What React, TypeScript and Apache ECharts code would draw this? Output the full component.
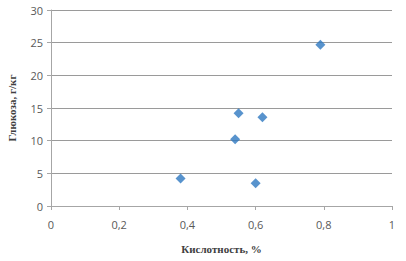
import React, { useEffect, useRef } from "react";
import * as echarts from "echarts";

const acidity = [0.38, 0.54, 0.55, 0.6, 0.62, 0.79];
const glucose = [4.2, 10.2, 14.2, 3.5, 13.6, 24.7];
const xTicks = [0, 0.2, 0.4, 0.6, 0.8, 1];
const yTicks = [0, 5, 10, 15, 20, 25, 30];
const xName = "Кислотность, %";
const yName = "Глюкоза, г/кг";

export default function App() {
  const ref = useRef<HTMLDivElement>(null);
  useEffect(() => {
    if (!ref.current) return;
    const chart = echarts.init(ref.current, null, { renderer: "svg" });
    const labelStyle = { color: "#595959", fontFamily: "Open Sans", fontSize: 11 };
    chart.setOption({
      animation: false,
      backgroundColor: "#ffffff",
      grid: { left: 51, right: 14, top: 10, bottom: 55, containLabel: false, outerBoundsMode: "none" },
      xAxis: {
        type: "value",
        min: xTicks[0],
        max: xTicks[xTicks.length - 1],
        interval: 0.2,
        name: xName,
        nameLocation: "middle",
        nameGap: 37,
        nameTextStyle: { fontFamily: "Liberation Serif", fontWeight: "bold", fontSize: 11, color: "#404040" },
        axisLine: { show: true, lineStyle: { color: "#a6a6a6" } },
        axisTick: { show: true, length: 4, lineStyle: { color: "#a6a6a6" } },
        splitLine: { show: false },
        axisLabel: { ...labelStyle, margin: 13, formatter: (v: number) => String(v).replace(".", ",") },
      },
      yAxis: {
        type: "value",
        min: yTicks[0],
        max: yTicks[yTicks.length - 1],
        interval: 5,
        name: yName,
        nameLocation: "middle",
        nameGap: 34,
        nameRotate: 90,
        nameTextStyle: { fontFamily: "Liberation Serif", fontWeight: "bold", fontSize: 11, color: "#404040" },
        axisLine: { show: true, lineStyle: { color: "#a6a6a6" } },
        axisTick: { show: true, length: 4, lineStyle: { color: "#a6a6a6" } },
        splitLine: { show: true, lineStyle: { color: "#9a9a9a", width: 1 } },
        axisLabel: { ...labelStyle, margin: 8 },
      },
      series: [
        {
          type: "scatter",
          symbol: "diamond",
          symbolSize: 10,
          itemStyle: { color: "#2e78c0" },
          data: acidity.map((x, i) => [x, glucose[i]]),
        },
      ],
    });
    return () => chart.dispose();
  }, []);
  return (
    <div
      ref={ref}
      style={{ position: "fixed", left: 0, top: 0, width: 406, height: 261, background: "#fff" }}
    />
  );
}
